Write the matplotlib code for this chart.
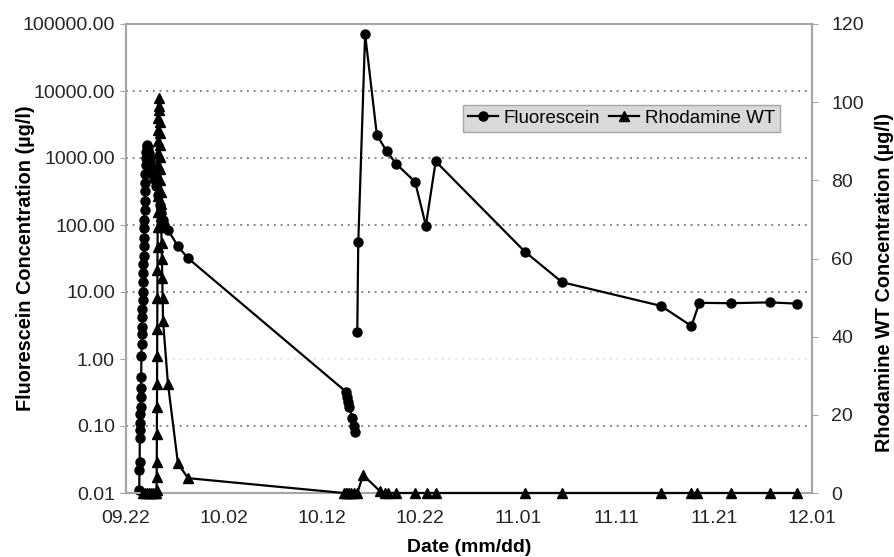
import numpy as np
import matplotlib
matplotlib.use("Agg")
import matplotlib.pyplot as plt
from matplotlib.ticker import FixedLocator, NullLocator

plt.rcParams['font.family'] = ['Liberation Sans', 'DejaVu Sans']

# days after 09.22
fl_day = [1.35, 1.37, 1.39, 1.41, 1.43, 1.45, 1.47, 1.49, 1.51, 1.53, 1.55, 1.57, 1.59,
          1.61, 1.63, 1.65, 1.67, 1.69, 1.71, 1.73, 1.75, 1.77, 1.79, 1.81, 1.83, 1.85,
          1.87, 1.89, 1.91, 1.93, 1.95, 1.97, 2.00, 2.03, 2.06, 2.10, 2.14, 2.20, 2.30,
          2.40, 2.52, 2.65, 2.85, 3.05, 3.25, 3.45, 3.60, 3.75, 3.90, 4.28, 5.30, 6.32,
          22.5, 22.6, 22.7, 22.8, 23.1, 23.3, 23.4, np.nan,
          23.6, 23.7, 24.4, 25.6, 26.6, 27.6, 29.5, 30.6, 31.6, 40.7, 44.5, 54.6, 57.7,
          58.5, 61.7, 65.7, 68.5]
fl_conc = [0.011, 0.022, 0.029, 0.066, 0.087, 0.11, 0.15, 0.19, 0.27, 0.37, 0.54, 1.1, 1.7,
           2.4, 3.0, 4.2, 5.5, 7.6, 10, 14, 19, 26, 35, 48, 65, 90,
           120, 170, 230, 320, 430, 580, 780, 1000, 1250, 1450, 1550, 1400, 1200,
           950, 750, 600, 480, 380, 280, 200, 150, 120, 100, 85, 48, 32,
           0.32, 0.27, 0.23, 0.19, 0.13, 0.10, 0.08, np.nan,
           2.5, 55, 70000, 2200, 1260, 810, 440, 98, 890, 40, 14, 6.2, 3.1,
           6.9, 6.8, 7.0, 6.7]

rh_day = [1.75, 1.95, 2.15, 2.35, 2.55, 2.75, 2.95, 3.10,
          3.12, 3.13, 3.14, 3.15, 3.16, 3.17, 3.18, 3.19, 3.20, 3.21, 3.22, 3.23, 3.24,
          3.25, 3.26, 3.27, 3.28, 3.29, 3.30, 3.31, 3.32, 3.36,
          3.40, 3.42, 3.44, 3.46, 3.48, 3.50, 3.52, 3.54, 3.56, 3.58, 3.60, 3.63, 3.66,
          3.70, 3.74, 3.78, 4.28, 5.30, 6.32,
          22.2, 22.4, 22.6, 22.8, 23.0, 23.3, 23.6, 24.2, 25.9, 26.4, 26.7, 27.6, 29.5,
          30.7, 31.6, 40.7, 44.5, 54.6, 57.7, 58.3, 61.7, 65.7, 68.5]
rh_conc = [0, 0, 0, 0, 0, 0, 0, 0,
           0.8, 4, 8, 15, 22, 28, 35, 42, 50, 57, 63, 68, 72,
           76, 80, 84, 87, 90, 93, 96, 99, 101,
           98, 95, 92, 89, 86, 83, 80, 77, 74, 71, 68, 64, 60,
           55, 50, 44, 28, 7.6, 3.8,
           0, 0, 0, 0, 0, 0, 0, 4.6, 0.5, 0, 0, 0, 0,
           0, 0, 0, 0, 0, 0, 0, 0, 0, 0]

date_ticks = [0, 10, 20, 30, 40, 50, 60, 70]
date_labels = ["09.22", "10.02", "10.12", "10.22", "11.01", "11.11", "11.21", "12.01"]
log_ticks = [0.01, 0.1, 1, 10, 100, 1000, 10000, 100000]
rh_ticks = [0, 20, 40, 60, 80, 100, 120]

fig = plt.figure(figsize=(8.95, 5.57), dpi=100)
ax = fig.add_axes([126 / 895, 64 / 557, 686 / 895, 469 / 557])
ax2 = ax.twinx()

frame_col = "#a6a6a6"
txt_col = "#262626"

# gridlines at each decade, the one at 1.00 is barely visible in the original
for v in log_ticks[1:-1]:
    col = "#dcdcdc" if v == 1 else "#606060"
    ax.axhline(v, color=col, lw=1.1, ls=(0, (1.2, 3.2)), zorder=0)

l1, = ax.plot(fl_day, fl_conc, color="black", lw=1.6, marker="o", ms=6.5,
              label="Fluorescein", zorder=3, clip_on=False)
l2, = ax2.plot(rh_day, rh_conc, color="black", lw=1.6, marker="^", ms=6.5,
               label="Rhodamine WT", zorder=3, clip_on=False)

ax.set_yscale("log")
ax.set_ylim(0.01, 100000)
ax.yaxis.set_major_locator(FixedLocator(log_ticks))
ax.yaxis.set_minor_locator(NullLocator())
ax.set_yticklabels(["%.2f" % v for v in log_ticks])
ax.set_xlim(0, 70)
ax.set_xticks(date_ticks)
ax.set_xticklabels(date_labels)
ax2.set_ylim(0, 120)
ax2.set_yticks(rh_ticks)

for a in (ax, ax2):
    for s in a.spines.values():
        s.set_color(frame_col)
        s.set_linewidth(1.5)
ax.tick_params(axis="y", length=4, color=frame_col, labelsize=14, pad=4, labelcolor=txt_col)
ax.tick_params(axis="x", length=0, labelsize=14, pad=12, labelcolor=txt_col)
ax2.tick_params(axis="y", length=4, color=frame_col, labelsize=14, pad=10, labelcolor=txt_col)

ax.set_ylabel("Fluorescein Concentration (\u00b5g/l)", fontsize=14.3, fontweight="bold", va="center")
ax.yaxis.set_label_coords(-0.147, 0.5)
ax2.set_ylabel("Rhodamine WT Concentration (\u00b5g/l)", fontsize=14.3, fontweight="bold",
               va="center", rotation=90)
ax2.yaxis.set_label_coords(1.105, 0.45)
ax.set_xlabel("Date (mm/dd)", fontsize=14, fontweight="bold", va="center")
ax.xaxis.set_label_coords(0.5, -0.117)

leg = fig.legend([l1, l2], ["Fluorescein", "Rhodamine WT"], loc="upper left",
                 bbox_to_anchor=(463 / 895, 1 - 105 / 557), ncol=2, fontsize=13.5,
                 frameon=True, fancybox=False, facecolor="#d9d9d9", edgecolor=frame_col,
                 framealpha=1, borderpad=0.25, handlelength=1.6, handletextpad=0.3,
                 columnspacing=0.5, borderaxespad=0)
leg.get_frame().set_linewidth(1.0)

fig.savefig("out.png", dpi=100)
